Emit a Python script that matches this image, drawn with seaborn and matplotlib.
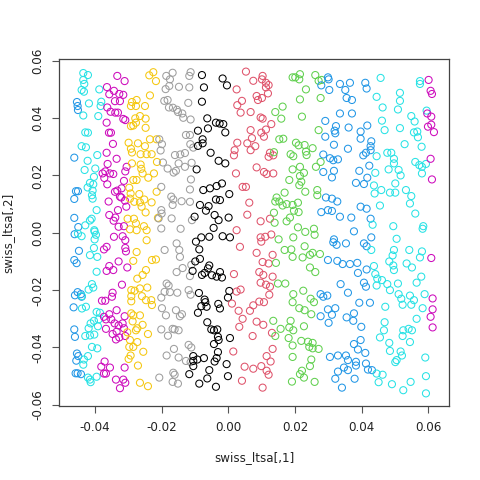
# %%
import pandas as pd
import matplotlib
matplotlib.use("Agg")
import matplotlib.pyplot as plt
import seaborn as sns

sns.set_style("ticks", {"axes.edgecolor": "black", "xtick.color": "#555555",
                        "ytick.color": "#555555", "text.color": "black",
                        "axes.labelcolor": "black"})
plt.rcParams["font.family"] = ["DejaVu Sans"]

# LTSA embedding of the swiss roll, one band per colour
blue_left_x = [-0.0454, -0.0452, -0.0451, -0.0462, -0.0457, -0.0451, -0.0462, -0.0462, -0.0450, -0.0461,
               -0.0448, -0.0462, -0.0455, -0.0452, -0.0460, -0.0464, -0.0440, -0.0442, -0.0462, -0.0460,
               -0.0454, -0.0450, -0.0456, -0.0452, -0.0442, -0.0458]
blue_left_y = [0.0456, 0.0442, 0.0428, 0.0262, 0.0145, 0.0145, 0.0118, 0.0052, 0.0020, -0.0005,
               -0.0063, -0.0095, -0.0106, -0.0207, -0.0218, -0.0260, -0.0223, -0.0214, -0.0337, -0.0363,
               -0.0421, -0.0430, -0.0446, -0.0490, -0.0493, -0.0490]

cyan_left_x = [-0.0435, -0.0421, -0.0435, -0.0432, -0.0440, -0.0433, -0.0387, -0.0418, -0.0381, -0.0383,
               -0.0435, -0.0390, -0.0429, -0.0421, -0.0440, -0.0427, -0.0393, -0.0422, -0.0431, -0.0399,
               -0.0403, -0.0415, -0.0422, -0.0405, -0.0407, -0.0409, -0.0407, -0.0395, -0.0410, -0.0415,
               -0.0429, -0.0402,
               -0.0451, -0.0440, -0.0401, -0.0397, -0.0401,
               -0.0403, -0.0415, -0.0393, -0.0395, -0.0409, -0.0405, -0.0419, -0.0439, -0.0439, -0.0427,
               -0.0395, -0.0385, -0.0403, -0.0389, -0.0413, -0.0419, -0.0391, -0.0429, -0.0415, -0.0402,
               -0.0409, -0.0393, -0.0421, -0.0433, -0.0435, -0.0421, -0.0415, -0.0395, -0.0413]
cyan_left_y = [0.0557, 0.0550, 0.0533, 0.0519, 0.0498, 0.0492, 0.0500, 0.0451, 0.0457, 0.0442,
               0.0409, 0.0407, 0.0350, 0.0349, 0.0302, 0.0298, 0.0271, 0.0251, 0.0219, 0.0224,
               0.0195, 0.0174, 0.0158, 0.0169, 0.0147, 0.0131, 0.0119, 0.0079, 0.0049, 0.0043,
               0.0026, 0.0009,
               -0.0003, -0.0012, 0.0004, -0.0007, -0.0023,
               -0.0053, -0.0078, -0.0084, -0.0136, -0.0179, -0.0191, -0.0198, -0.0221, -0.0264, -0.0258,
               -0.0276, -0.0279, -0.0307, -0.0302, -0.0316, -0.0333, -0.0326, -0.0360, -0.0358, -0.0355,
               -0.0398, -0.0403, -0.0430, -0.0442, -0.0460, -0.0505, -0.0512, -0.0502, -0.0521]

magenta_left_x = [-0.0333, -0.0311, -0.0364, -0.0343, -0.0357, -0.0327, -0.0315, -0.0363, -0.0340, -0.0325,
                  -0.0353, -0.0339, -0.0331, -0.0315, -0.0309, -0.0365, -0.0358, -0.0352, -0.0346, -0.0365,
                  -0.0335, -0.0305, -0.0362, -0.0369, -0.0355, -0.0377, -0.0345, -0.0372, -0.0309, -0.0313,
                  -0.0320, -0.0340, -0.0363, -0.0333, -0.0321, -0.0310, -0.0306, -0.0325, -0.0359, -0.0331,
                  -0.0357, -0.0339, -0.0344, -0.0313, -0.0329, -0.0317, -0.0343,
                  -0.0365, -0.0373, -0.0309, -0.0309, -0.0307, -0.0357, -0.0365, -0.0345, -0.0329, -0.0303,
                  -0.0319, -0.0347, -0.0349, -0.0379, -0.0369, -0.0311, -0.0373, -0.0367, -0.0357, -0.0335,
                  -0.0351, -0.0341, -0.0329, -0.0317, -0.0313, -0.0367, -0.0347, -0.0335, -0.0327, -0.0337,
                  -0.0309, -0.0371, -0.0381, -0.0373, -0.0367, -0.0355, -0.0311, -0.0337, -0.0315, -0.0309,
                  -0.0325]
magenta_left_y = [0.0547, 0.0529, 0.0508, 0.0495, 0.0483, 0.0484, 0.0481, 0.0437, 0.0459, 0.0459,
                  0.0422, 0.0419, 0.0419, 0.0397, 0.0393, 0.0384, 0.0349, 0.0349, 0.0310, 0.0279,
                  0.0258, 0.0230, 0.0240, 0.0214, 0.0207, 0.0207, 0.0205, 0.0191, 0.0214, 0.0181,
                  0.0155, 0.0143, 0.0169, 0.0147, 0.0123, 0.0112, 0.0091, 0.0126, 0.0109, 0.0079,
                  0.0062, 0.0053, 0.0042, 0.0023, 0.0021, -0.0012, -0.0014,
                  -0.0049, -0.0058, -0.0026, -0.0053, -0.0065, -0.0116, -0.0133, -0.0130, -0.0100, -0.0121,
                  -0.0181, -0.0209, -0.0223, -0.0237, -0.0237, -0.0291, -0.0293, -0.0302, -0.0284, -0.0270,
                  -0.0302, -0.0316, -0.0323, -0.0316, -0.0333, -0.0335, -0.0353, -0.0345, -0.0365, -0.0372,
                  -0.0360, -0.0449, -0.0467, -0.0491, -0.0491, -0.0470, -0.0470, -0.0512, -0.0512, -0.0523,
                  -0.0542]

yellow_x = [-0.0237, -0.0225, -0.0217, -0.0289, -0.0275, -0.0292, -0.0277, -0.0250, -0.0235, -0.0265,
            -0.0279, -0.0248, -0.0292, -0.0285, -0.0277, -0.0248, -0.0235, -0.0215, -0.0299, -0.0292,
            -0.0271, -0.0289, -0.0263, -0.0250, -0.0245, -0.0230, -0.0289, -0.0263, -0.0261, -0.0257,
            -0.0285, -0.0275, -0.0240, -0.0223, -0.0214, -0.0297, -0.0293, -0.0267, -0.0295, -0.0282,
            -0.0265, -0.0252, -0.0230, -0.0215, -0.0260, -0.0248, -0.0302, -0.0283, -0.0277, -0.0253,
            -0.0295, -0.0275, -0.0245, -0.0211,
            -0.0245, -0.0275, -0.0285, -0.0229, -0.0217, -0.0247, -0.0257, -0.0273, -0.0291, -0.0281,
            -0.0291, -0.0291, -0.0265, -0.0243, -0.0259, -0.0247, -0.0231, -0.0229, -0.0291, -0.0285,
            -0.0265, -0.0287, -0.0257, -0.0277, -0.0303, -0.0273, -0.0241, -0.0295, -0.0285, -0.0297,
            -0.0273, -0.0255, -0.0293, -0.0299, -0.0271, -0.0265, -0.0241]
yellow_y = [0.0549, 0.0560, 0.0529, 0.0456, 0.0463, 0.0442, 0.0442, 0.0442, 0.0479, 0.0407,
            0.0399, 0.0398, 0.0372, 0.0374, 0.0384, 0.0366, 0.0326, 0.0326, 0.0314, 0.0293,
            0.0312, 0.0280, 0.0274, 0.0302, 0.0274, 0.0274, 0.0242, 0.0238, 0.0223, 0.0207,
            0.0184, 0.0184, 0.0192, 0.0207, 0.0247, 0.0157, 0.0137, 0.0135, 0.0119, 0.0108,
            0.0106, 0.0116, 0.0106, 0.0143, 0.0091, 0.0071, 0.0049, 0.0049, 0.0033, 0.0023,
            0.0012, 0.0009, 0.0009, 0.0052,
            -0.0026, -0.0067, -0.0098, -0.0095, -0.0093, -0.0130, -0.0147, -0.0160, -0.0200, -0.0202,
            -0.0221, -0.0239, -0.0194, -0.0191, -0.0221, -0.0235, -0.0235, -0.0252, -0.0281, -0.0288,
            -0.0288, -0.0309, -0.0321, -0.0340, -0.0347, -0.0333, -0.0353, -0.0374, -0.0398, -0.0398,
            -0.0381, -0.0415, -0.0428, -0.0440, -0.0463, -0.0523, -0.0535]

gray_x = [-0.0188, -0.0177, -0.0175, -0.0167, -0.0186, -0.0148, -0.0117, -0.0113, -0.0117, -0.0192,
          -0.0182, -0.0178, -0.0154, -0.0138, -0.0135, -0.0120, -0.0113, -0.0151, -0.0166, -0.0207,
          -0.0199, -0.0203, -0.0196, -0.0182, -0.0160, -0.0164, -0.0157, -0.0144, -0.0130, -0.0149,
          -0.0130, -0.0127, -0.0115, -0.0114, -0.0105, -0.0110, -0.0201, -0.0171, -0.0165, -0.0167,
          -0.0140, -0.0115, -0.0112, -0.0115, -0.0201, -0.0200, -0.0170, -0.0209, -0.0109, -0.0201,
          -0.0143,
          -0.0191, -0.0155, -0.0147, -0.0145, -0.0137, -0.0155, -0.0111, -0.0115, -0.0185, -0.0179,
          -0.0191, -0.0175, -0.0153, -0.0119, -0.0113, -0.0201, -0.0199, -0.0187, -0.0157, -0.0145,
          -0.0139, -0.0201, -0.0167, -0.0161, -0.0149, -0.0181, -0.0119, -0.0111, -0.0163, -0.0149,
          -0.0185, -0.0127, -0.0113, -0.0165, -0.0161, -0.0207, -0.0167, -0.0151]
gray_y = [0.0501, 0.0512, 0.0535, 0.0558, 0.0547, 0.0509, 0.0507, 0.0560, 0.0547, 0.0460,
          0.0463, 0.0437, 0.0429, 0.0416, 0.0401, 0.0453, 0.0395, 0.0421, 0.0436, 0.0326,
          0.0309, 0.0287, 0.0245, 0.0224, 0.0271, 0.0210, 0.0216, 0.0273, 0.0278, 0.0242,
          0.0230, 0.0341, 0.0341, 0.0309, 0.0297, 0.0244, 0.0160, 0.0126, 0.0116, 0.0097,
          0.0110, 0.0108, 0.0186, 0.0151, 0.0079, 0.0067, 0.0050, 0.0050, 0.0044, 0.0015,
          0.0014,
          -0.0060, -0.0037, -0.0060, -0.0084, -0.0123, -0.0137, -0.0112, -0.0151, -0.0177, -0.0184,
          -0.0206, -0.0207, -0.0209, -0.0200, -0.0216, -0.0226, -0.0263, -0.0288, -0.0270, -0.0291,
          -0.0284, -0.0337, -0.0335, -0.0337, -0.0340, -0.0359, -0.0391, -0.0400, -0.0405, -0.0435,
          -0.0428, -0.0447, -0.0451, -0.0488, -0.0495, -0.0505, -0.0520, -0.0526]

black_x = [-0.0079, -0.0073, -0.0017, -0.0004, -0.0079, -0.0063, -0.0091, -0.0061, -0.0077, -0.0077,
           -0.0091, -0.0037, -0.0026, -0.0015, -0.0009, -0.0053, -0.0029, -0.0009, -0.0095, -0.0075,
           -0.0055, -0.0035, -0.0019, 0.0003, -0.0085, -0.0067, -0.0059, -0.0037, -0.0025, -0.0041,
           -0.0029, 0.0001, -0.0101, -0.0044, -0.0057, -0.0081, -0.0017, 0.0005,
           -0.0097, -0.0087, -0.0099, -0.0085, -0.0107, -0.0057, -0.0061, -0.0071, -0.0079, -0.0049,
           -0.0035, -0.0025, -0.0019, 0.0003, -0.0001, -0.0088, -0.0071, -0.0069, -0.0081, -0.0091,
           -0.0065, -0.0030, -0.0025, -0.0063, -0.0051, -0.0043, -0.0033, -0.0031, -0.0029, 0.0005,
           -0.0043, -0.0031, -0.0105, -0.0073, -0.0105, -0.0093, -0.0035, -0.0041, -0.0105, -0.0057,
           -0.0005, -0.0117, -0.0063, -0.0001, -0.0087, -0.0037]
black_y = [0.0550, 0.0507, 0.0538, 0.0514, 0.0457, 0.0399, 0.0356, 0.0364, 0.0326, 0.0312,
           0.0303, 0.0384, 0.0381, 0.0379, 0.0350, 0.0279, 0.0251, 0.0242, 0.0221, 0.0149,
           0.0155, 0.0163, 0.0172, 0.0135, 0.0097, 0.0077, 0.0093, 0.0116, 0.0114, 0.0062,
           0.0044, 0.0053, 0.0056, 0.0017, -0.0014, -0.0016, -0.0012, -0.0016,
           -0.0031, -0.0058, -0.0100, -0.0091, -0.0133, -0.0114, -0.0124, -0.0140, -0.0147, -0.0148,
           -0.0153, -0.0137, -0.0156, -0.0203, -0.0226, -0.0210, -0.0233, -0.0242, -0.0256, -0.0279,
           -0.0258, -0.0248, -0.0264, -0.0312, -0.0337, -0.0340, -0.0337, -0.0363, -0.0374, -0.0367,
           -0.0388, -0.0416, -0.0430, -0.0437, -0.0447, -0.0442, -0.0437, -0.0449, -0.0465, -0.0479,
           -0.0458, -0.0493, -0.0508, -0.0500, -0.0526, -0.0537]

red_x = [0.0053, 0.0075, 0.0103, 0.0101, 0.0113, 0.0121, 0.0113, 0.0085, 0.0089, 0.0101,
         0.0119, 0.0041, 0.0037, 0.0067, 0.0097, 0.0103, 0.0129, 0.0113, 0.0067, 0.0099,
         0.0107, 0.0071, 0.0057, 0.0081, 0.0067, 0.0125, 0.0135, 0.0121, 0.0085, 0.0107,
         0.0115, 0.0135, 0.0043, 0.0053, 0.0063, 0.0057, 0.0097, 0.0125, 0.0129, 0.0111,
         0.0097,
         0.0025, 0.0027, 0.0019, 0.0017, 0.0023, 0.0025, 0.0027,
         0.0017, 0.0025, 0.0011, 0.0031, 0.0033, 0.0015,
         0.0099, 0.0035, 0.0085, 0.0133, 0.0103, 0.0121, 0.0093, 0.0105, 0.0133, 0.0097,
         0.0113, 0.0125, 0.0123, 0.0037, 0.0107, 0.0093, 0.0075, 0.0065, 0.0043, 0.0085,
         0.0105, 0.0131, 0.0073, 0.0133, 0.0115, 0.0127, 0.0049, 0.0075, 0.0099, 0.0115,
         0.0121, 0.0041, 0.0103]
red_y = [0.0562, 0.0530, 0.0547, 0.0535, 0.0523, 0.0515, 0.0507, 0.0477, 0.0463, 0.0470,
         0.0486, 0.0460, 0.0419, 0.0421, 0.0402, 0.0398, 0.0379, 0.0360, 0.0358, 0.0349,
         0.0335, 0.0330, 0.0312, 0.0302, 0.0288, 0.0279, 0.0270, 0.0265, 0.0228, 0.0212,
         0.0205, 0.0207, 0.0160, 0.0160, 0.0105, 0.0063, 0.0040, 0.0049, -0.0006, -0.0014,
         -0.0016,
         0.0500, 0.0314, 0.0288, 0.0270, 0.0207, 0.0009, 0.0445,
         -0.0144, -0.0205, -0.0247, -0.0272, -0.0328, -0.0414,
         -0.0031, -0.0049, -0.0070, -0.0077, -0.0102, -0.0107, -0.0137, -0.0147, -0.0153, -0.0174,
         -0.0181, -0.0188, -0.0216, -0.0198, -0.0242, -0.0240, -0.0253, -0.0272, -0.0300, -0.0310,
         -0.0321, -0.0349, -0.0360, -0.0405, -0.0430, -0.0449, -0.0467, -0.0474, -0.0465, -0.0481,
         -0.0495, -0.0516, -0.0540]

green_x = [0.0193, 0.0201, 0.0215, 0.0213, 0.0261, 0.0271, 0.0280, 0.0233, 0.0215, 0.0277,
           0.0163, 0.0141, 0.0159, 0.0221, 0.0271, 0.0153, 0.0165, 0.0203, 0.0211, 0.0229,
           0.0253, 0.0187, 0.0195, 0.0233, 0.0235, 0.0137, 0.0215, 0.0193, 0.0227, 0.0215,
           0.0219, 0.0213, 0.0183, 0.0277, 0.0263, 0.0231, 0.0267, 0.0267, 0.0169, 0.0145,
           0.0141, 0.0153, 0.0163, 0.0175, 0.0193, 0.0209, 0.0197, 0.0211, 0.0137, 0.0185,
           0.0175, 0.0139, 0.0209, 0.0231, 0.0257, 0.0259, 0.0195, 0.0151,
           0.0169, 0.0189, 0.0143, 0.0193, 0.0223, 0.0229, 0.0245, 0.0253, 0.0275, 0.0245,
           0.0261, 0.0149, 0.0171, 0.0195, 0.0225, 0.0193, 0.0247, 0.0257, 0.0213, 0.0229,
           0.0249, 0.0135, 0.0187, 0.0183, 0.0195, 0.0227, 0.0157, 0.0141, 0.0181, 0.0219,
           0.0239, 0.0253, 0.0193, 0.0243, 0.0253, 0.0271, 0.0193, 0.0249, 0.0245, 0.0221,
           0.0215, 0.0227, 0.0191, 0.0259]
green_y = [0.0542, 0.0542, 0.0553, 0.0535, 0.0550, 0.0530, 0.0533, 0.0500, 0.0465, 0.0470,
           0.0440, 0.0421, 0.0398, 0.0405, 0.0358, 0.0326, 0.0328, 0.0314, 0.0305, 0.0306,
           0.0295, 0.0274, 0.0267, 0.0283, 0.0271, 0.0281, 0.0230, 0.0221, 0.0209, 0.0198,
           0.0178, 0.0166, 0.0184, 0.0247, 0.0230, 0.0143, 0.0149, 0.0131, 0.0140, 0.0123,
           0.0109, 0.0109, 0.0095, 0.0100, 0.0097, 0.0105, 0.0077, 0.0072, 0.0070, 0.0053,
           0.0040, 0.0035, 0.0019, 0.0003, 0.0014, -0.0007, -0.0016, -0.0023,
           -0.0060, -0.0058, -0.0105, -0.0084, -0.0086, -0.0047, -0.0077, -0.0070, -0.0074, -0.0121,
           -0.0137, -0.0177, -0.0177, -0.0214, -0.0202, -0.0242, -0.0230, -0.0242, -0.0263, -0.0270,
           -0.0284, -0.0307, -0.0307, -0.0330, -0.0340, -0.0326, -0.0335, -0.0360, -0.0367, -0.0377,
           -0.0380, -0.0384, -0.0393, -0.0398, -0.0403, -0.0405, -0.0433, -0.0442, -0.0465, -0.0481,
           -0.0493, -0.0505, -0.0519, -0.0520]

blue_x = [0.0299, 0.0301, 0.0279, 0.0303, 0.0335, 0.0365, 0.0351, 0.0411, 0.0415, 0.0355,
          0.0371, 0.0335, 0.0371, 0.0291, 0.0323, 0.0319, 0.0321, 0.0361, 0.0417, 0.0397,
          0.0291, 0.0397, 0.0317, 0.0429, 0.0427, 0.0427, 0.0359, 0.0413, 0.0405, 0.0285,
          0.0305, 0.0315, 0.0329, 0.0423, 0.0393, 0.0417, 0.0407, 0.0383, 0.0285, 0.0317,
          0.0311, 0.0293, 0.0311, 0.0327, 0.0299, 0.0311, 0.0279, 0.0335, 0.0369, 0.0397,
          0.0415, 0.0427, 0.0377, 0.0317, 0.0429,
          0.0315, 0.0325, 0.0353, 0.0407, 0.0415, 0.0299, 0.0327, 0.0343, 0.0365, 0.0387,
          0.0415, 0.0389, 0.0337, 0.0407, 0.0413, 0.0359, 0.0277, 0.0285, 0.0297, 0.0299,
          0.0321, 0.0277, 0.0311, 0.0301, 0.0355, 0.0377, 0.0375, 0.0393, 0.0425, 0.0399,
          0.0377, 0.0389, 0.0397, 0.0411, 0.0305, 0.0329, 0.0353, 0.0359, 0.0383, 0.0383,
          0.0347, 0.0329, 0.0359, 0.0413, 0.0419, 0.0321, 0.0341, 0.0379, 0.0431]
blue_y = [0.0542, 0.0535, 0.0514, 0.0498, 0.0519, 0.0523, 0.0498, 0.0523, 0.0503, 0.0470,
          0.0463, 0.0416, 0.0416, 0.0390, 0.0372, 0.0356, 0.0347, 0.0367, 0.0374, 0.0353,
          0.0335, 0.0328, 0.0307, 0.0319, 0.0302, 0.0288, 0.0293, 0.0279, 0.0270, 0.0273,
          0.0260, 0.0253, 0.0256, 0.0234, 0.0216, 0.0192, 0.0170, 0.0174, 0.0212, 0.0216,
          0.0193, 0.0123, 0.0119, 0.0109, 0.0079, 0.0076, 0.0072, 0.0056, 0.0053, 0.0091,
          0.0084, 0.0049, 0.0005, -0.0023, -0.0016,
          -0.0033, -0.0042, -0.0037, -0.0037, -0.0047, -0.0095, -0.0098, -0.0109, -0.0109, -0.0105,
          -0.0128, -0.0140, -0.0179, -0.0174, -0.0188, -0.0209, -0.0214, -0.0223, -0.0219, -0.0267,
          -0.0263, -0.0291, -0.0286, -0.0314, -0.0295, -0.0281, -0.0307, -0.0244, -0.0244, -0.0328,
          -0.0388, -0.0407, -0.0374, -0.0419, -0.0433, -0.0428, -0.0428, -0.0444, -0.0450, -0.0463,
          -0.0470, -0.0484, -0.0479, -0.0456, -0.0477, -0.0509, -0.0540, -0.0509, -0.0479]

cyan_x = [0.0457, 0.0575, 0.0575, 0.0445, 0.0515, 0.0515, 0.0463, 0.0509, 0.0549, 0.0595,
          0.0559, 0.0461, 0.0469, 0.0515, 0.0557, 0.0567, 0.0569, 0.0529, 0.0580, 0.0477,
          0.0489, 0.0445, 0.0497, 0.0497, 0.0511, 0.0481, 0.0517, 0.0441, 0.0561, 0.0573,
          0.0581, 0.0593, 0.0581, 0.0437, 0.0439, 0.0459, 0.0485, 0.0501, 0.0501, 0.0533,
          0.0549, 0.0545, 0.0561, 0.0455, 0.0433, 0.0495, 0.0585, 0.0583, 0.0505,
          0.0429, 0.0497, 0.0493, 0.0483, 0.0495, 0.0497, 0.0437, 0.0441, 0.0447, 0.0461,
          0.0477, 0.0445, 0.0485, 0.0509, 0.0543, 0.0535, 0.0551, 0.0581, 0.0575, 0.0579,
          0.0565, 0.0511, 0.0519, 0.0523, 0.0545, 0.0557, 0.0549, 0.0589, 0.0583, 0.0565,
          0.0471, 0.0469, 0.0467, 0.0455, 0.0483, 0.0525, 0.0541, 0.0551, 0.0523, 0.0545,
          0.0485, 0.0517, 0.0521, 0.0505, 0.0501, 0.0591, 0.0445, 0.0463, 0.0451, 0.0491,
          0.0525, 0.0547, 0.0593, 0.0593]
cyan_y = [0.0540, 0.0529, 0.0519, 0.0474, 0.0488, 0.0460, 0.0437, 0.0430, 0.0407, 0.0426,
          0.0388, 0.0391, 0.0358, 0.0365, 0.0350, 0.0353, 0.0333, 0.0309, 0.0300, 0.0279,
          0.0279, 0.0267, 0.0258, 0.0242, 0.0219, 0.0221, 0.0200, 0.0209, 0.0247, 0.0236,
          0.0230, 0.0240, 0.0207, 0.0165, 0.0137, 0.0149, 0.0140, 0.0172, 0.0140, 0.0149,
          0.0128, 0.0102, 0.0067, 0.0095, 0.0028, 0.0023, 0.0023, 0.0014, -0.0021,
          -0.0060, -0.0060, -0.0079, -0.0100, -0.0114, -0.0130, -0.0116, -0.0144, -0.0160, -0.0165,
          -0.0179, -0.0184, -0.0200, -0.0177, -0.0060, -0.0107, -0.0121, -0.0065, -0.0086, -0.0153,
          -0.0174, -0.0214, -0.0230, -0.0251, -0.0219, -0.0235, -0.0251, -0.0214, -0.0263, -0.0300,
          -0.0258, -0.0312, -0.0340, -0.0365, -0.0384, -0.0340, -0.0335, -0.0340, -0.0360, -0.0381,
          -0.0412, -0.0414, -0.0428, -0.0444, -0.0451, -0.0435, -0.0491, -0.0495, -0.0521, -0.0528,
          -0.0549, -0.0520, -0.0500, -0.0560]

magenta_x = [0.0601, 0.0607, 0.0611, 0.0597, 0.0609, 0.0609, 0.0599, 0.0617, 0.0607, 0.0611,
             0.0609, 0.0613, 0.0613, 0.0607, 0.0613]
magenta_y = [0.0533, 0.0495, 0.0484, 0.0416, 0.0405, 0.0377, 0.0370, 0.0351, 0.0258, 0.0186,
             -0.0088, -0.0229, -0.0267, -0.0293, -0.0330]

# R default palette colours
band_colours = {
    "blue_left": "#2297E6", "cyan_left": "#28E2E5", "magenta_left": "#CD0BBC",
    "yellow": "#F5C710", "gray": "#9E9E9E", "black": "black", "red": "#DF536B",
    "green": "#61D04F", "blue": "#2297E6", "cyan": "#28E2E5", "magenta": "#CD0BBC",
}
bands = {
    "blue_left": (blue_left_x, blue_left_y), "cyan_left": (cyan_left_x, cyan_left_y),
    "magenta_left": (magenta_left_x, magenta_left_y), "yellow": (yellow_x, yellow_y),
    "gray": (gray_x, gray_y), "black": (black_x, black_y), "red": (red_x, red_y),
    "green": (green_x, green_y), "blue": (blue_x, blue_y), "cyan": (cyan_x, cyan_y),
    "magenta": (magenta_x, magenta_y),
}
df = pd.concat(
    [pd.DataFrame({"x": bx, "y": by, "band": name}) for name, (bx, by) in bands.items()],
    ignore_index=True,
)

# %%
fig = plt.figure(figsize=(4.8, 4.8), dpi=100)
ax = fig.add_axes([0.1235, 0.1548, 0.8125, 0.7217])
sns.scatterplot(data=df, x="x", y="y", hue="band", palette=band_colours,
                legend=False, s=26, ax=ax)
# open circles like R's pch = 1
pts = ax.collections[0]
pts.set_edgecolors(pts.get_facecolors())
pts.set_facecolors("none")
pts.set_linewidths(0.75)

ax.set_xlim(-0.0507, 0.0663)
ax.set_ylim(-0.0603, 0.0605)
ax.set_xticks([-0.04, -0.02, 0.0, 0.02, 0.04, 0.06])
ax.set_xticklabels(["-0.04", "-0.02", "0.00", "0.02", "0.04", "0.06"])
ax.set_yticks([-0.06, -0.04, -0.02, 0.0, 0.02, 0.04, 0.06])
ax.set_yticklabels(["-0.06", "-0.04", "-0.02", "0.00", "0.02", "0.04", "0.06"])
for lbl in ax.get_yticklabels():
    lbl.set_rotation(90)
    lbl.set_va("center")
ax.tick_params(length=5, width=0.8, pad=6, labelsize=8.6, labelcolor="#222222")
ax.set_xlabel("swiss_ltsa[,1]", fontsize=8.6, labelpad=12, color="#222222")
ax.set_ylabel("swiss_ltsa[,2]", fontsize=8.6, labelpad=12, color="#222222")
for side in ["top", "right", "left", "bottom"]:
    ax.spines[side].set_visible(True)
    ax.spines[side].set_linewidth(0.9)
    ax.spines[side].set_color("#444444")

plt.savefig("out.png", dpi=100)
